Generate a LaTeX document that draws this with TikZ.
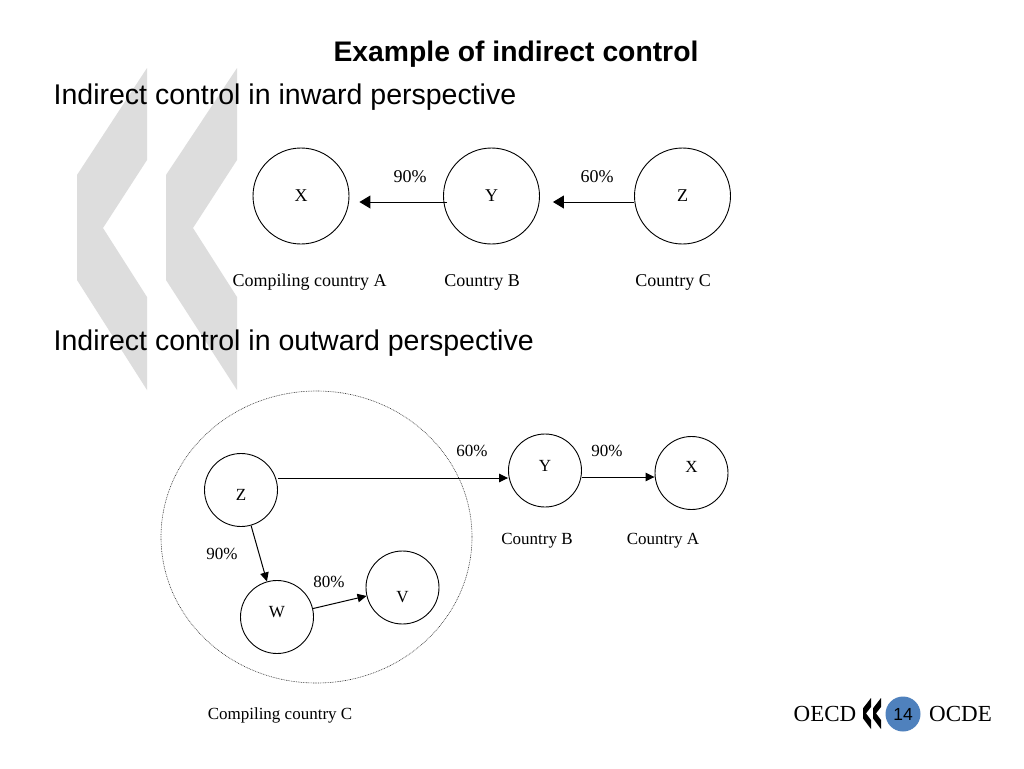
\documentclass[tikz,border=0pt]{standalone}
\usepackage{fontspec}
\setmainfont{Liberation Serif}
\newfontfamily\arialf{Liberation Sans}
\usetikzlibrary{arrows.meta,shapes.geometric}
\definecolor{chevgray}{RGB}{221,221,221}
\definecolor{oecdblue}{RGB}{79,129,189}
\begin{document}
\begin{tikzpicture}[x=1pt,y=-1pt,
  circ/.style={draw,circle,line width=0.9pt,inner sep=0pt},
  bigc/.style={circ,minimum size=96pt,font=\fontsize{18}{20}\selectfont},
  smc/.style={circ,minimum size=73pt,font=\fontsize{17}{19}\selectfont},
  lbl/.style={inner sep=0pt,anchor=base,font=\fontsize{18}{20}\selectfont},
  slbl/.style={inner sep=0pt,anchor=base,font=\fontsize{17}{19}\selectfont},
  head/.style={inner sep=0pt,anchor=base west,font=\arialf\fontsize{28.5}{32}\selectfont},
  bigarr/.style={line width=1pt,-{Triangle[length=11pt,width=13pt]}},
  smarr/.style={line width=1pt,-{Triangle[length=9pt,width=8.5pt]}},
  chev/.style={fill=chevgray},
  logochev/.style={fill=black},
]
\useasboundingbox (0,0) rectangle (1024,768);
\fill[white] (0,0) rectangle (1024,768);

% background chevrons
\fill[chev] (147,68) -- (77,175) -- (77,280) -- (147,390) -- (147,297) -- (103,228) -- (147,160) -- cycle;
\fill[chev] (237,68) -- (166,175) -- (166,280) -- (237,390) -- (237,297) -- (193,228) -- (237,160) -- cycle;

% headings
\node[inner sep=0pt,anchor=base,font=\arialf\bfseries\fontsize{28.3}{32}\selectfont] (title) at (516,62) {Example of indirect control};
\node[head] (h1) at (53.5,104) {Indirect control in inward perspective};
\node[head] (h2) at (53.5,350) {Indirect control in outward perspective};

% inward diagram
\node[bigc] (tX) at (301,196) {X};
\node[bigc] (tY) at (491.5,196) {Y};
\node[bigc] (tZ) at (682.5,196) {Z};
\draw[bigarr] ([xshift=4pt,yshift=-6pt]tY.west) -- ([xshift=10pt,yshift=-6pt]tX.east);
\draw[bigarr] ([yshift=-6pt]tZ.west) -- ([xshift=13pt,yshift=-6pt]tY.east);
\node[lbl] (p90t) at (410,182) {90\%};
\node[lbl] (p60t) at (597,182) {60\%};
\node[lbl] (cA) at (309.5,286) {Compiling country A};
\node[lbl] (cBt) at (482,286) {Country B};
\node[lbl] (cC) at (673,286) {Country C};

% outward diagram
\node[draw=black!80,ellipse,line width=0.6pt,dash pattern=on 0.8pt off 0.9pt,minimum width=311pt,minimum height=292pt,inner sep=0pt] (grp) at (316.5,537) {};
\node[smc,text height=20pt,text depth=0pt] (bZ) at (241,490) {Z};
\node[smc,text height=6pt,text depth=5pt] (bY) at (545,470.5) {Y};
\node[smc,text height=5pt,text depth=7pt] (bX) at (691.5,473) {X};
\node[smc,text height=6pt,text depth=6pt] (bW) at (277,617) {W};
\node[smc,text height=29pt,text depth=0pt] (bV) at (402.5,587.5) {V};
\draw[smarr] ([yshift=12pt]bZ.east) -- ([yshift=-7.5pt]bY.west);
\draw[smarr] ([yshift=-6.5pt]bY.east) -- ([yshift=-4pt]bX.west);
\draw[smarr] (bZ) -- (bW);
\draw[smarr] (bW) -- (bV);
\node[slbl] (p60b) at (472,456) {60\%};
\node[slbl] (p90b) at (607,456) {90\%};
\node[slbl] (p90l) at (222,559) {90\%};
\node[slbl] (p80) at (329,587) {80\%};
\node[slbl] (cBb) at (537,544) {Country B};
\node[slbl] (cAb) at (663,544) {Country A};
\node[slbl] (cCb) at (280,719) {Compiling country C};

% logo
\node[inner sep=0pt,anchor=base,font=\fontsize{23}{25}\selectfont] (oecd) at (825,721) {OECD};
\node[inner sep=0pt,anchor=base,font=\fontsize{23}{25}\selectfont] (ocde) at (960.5,721) {OCDE};
\fill[logochev] (871,698) -- (863,708.3) -- (863,718.4) -- (871,729) -- (871,720) -- (866,713.4) -- (871,706.9) -- cycle;
\fill[logochev] (881,698) -- (873,708.3) -- (873,718.4) -- (881,729) -- (881,720) -- (876,713.4) -- (881,706.9) -- cycle;
\node[circle,fill=oecdblue,minimum size=35pt,inner sep=0pt,font=\arialf\fontsize{17.5}{19}\selectfont] (pg) at (903,714) {14};
\end{tikzpicture}
\end{document}
